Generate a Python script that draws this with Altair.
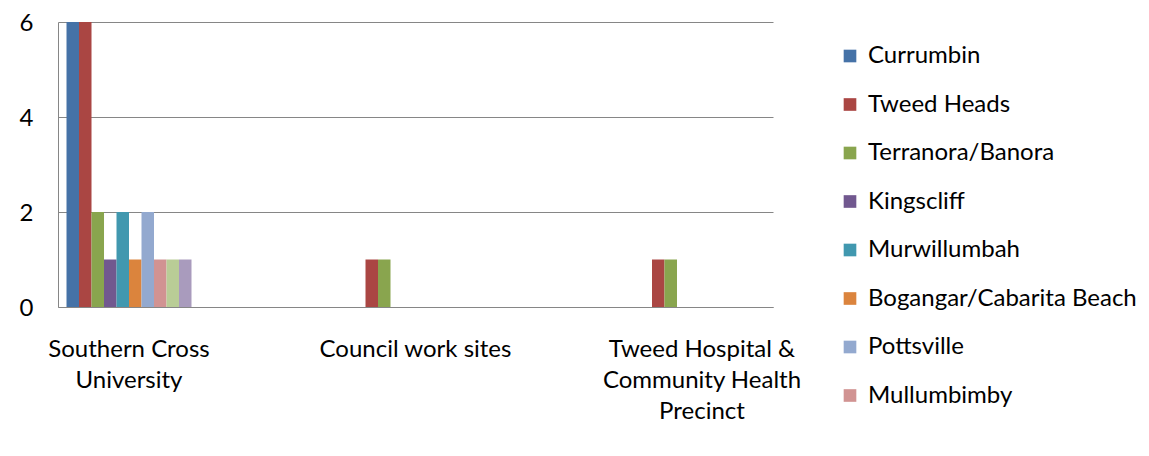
import altair as alt
import pandas as pd

categories = ["Southern Cross University", "Council work sites",
              "Tweed Hospital & Community Health Precinct"]
category_lines = [["Southern Cross", "University"], ["Council work sites"],
                  ["Tweed Hospital &", "Community Health", "Precinct"]]
series = ["Currumbin", "Tweed Heads", "Terranora/Banora", "Kingscliff",
          "Murwillumbah", "Bogangar/Cabarita Beach", "Pottsville", "Mullumbimby",
          "Byron Bay", "Other"]
legend_shown = series[:8]
colors = ["#4572A7", "#AA4643", "#89A54E", "#71588F", "#4198AF",
          "#DB843D", "#93A9CF", "#D19392", "#B9CD96", "#A99BBD"]
values = {
    "Southern Cross University": [6, 6, 2, 1, 2, 1, 2, 1, 1, 1],
    "Council work sites": [0, 1, 1, 0, 0, 0, 0, 0, 0, 0],
    "Tweed Hospital & Community Health Precinct": [0, 1, 1, 0, 0, 0, 0, 0, 0, 0],
}
y_ticks = [0, 2, 4, 6]

rows = []
for c in categories:
    for s, v in zip(series, values[c]):
        rows.append({"category": c, "series": s, "value": v})
df = pd.DataFrame(rows)

label_expr = ""
for c, lines in zip(categories, category_lines):
    arr = "[" + ",".join("'" + l + "'" for l in lines) + "]"
    label_expr += f"datum.value == '{c}' ? {arr} : "
label_expr += "datum.label"

FONT = "Lato"
FS = 24

chart = alt.Chart(df).mark_bar().encode(
    x=alt.X("category:N", sort=categories, title=None,
            scale=alt.Scale(paddingInner=0.5637, paddingOuter=0.0297),
            axis=alt.Axis(labelAngle=0, labelExpr=label_expr, labelPadding=30,
                          labelLineHeight=31, labelFontSize=FS, labelFont=FONT,
                          labelColor="#000000", ticks=False, domainColor="#868686",
                          labelBaseline="top", labelAlign="center", labelLimit=400)),
    xOffset=alt.XOffset("series:N", sort=series, scale=alt.Scale(paddingInner=0, paddingOuter=0)),
    y=alt.Y("value:Q", title=None, scale=alt.Scale(domain=[0, 6], nice=False),
            axis=alt.Axis(values=y_ticks, grid=True, gridColor="#868686", gridWidth=1,
                          domainColor="#868686", ticks=False, labelPadding=25,
                          labelOffset=1, labelFontSize=FS, labelFont=FONT,
                          labelColor="#000000")),
    color=alt.Color("series:N", sort=series,
                    scale=alt.Scale(domain=series, range=colors),
                    legend=alt.Legend(title=None, values=legend_shown, orient="none",
                                      legendX=780, legendY=22, symbolType="square",
                                      symbolSize=160, symbolStrokeWidth=0,
                                      labelFontSize=FS, labelFont=FONT, labelColor="#000000",
                                      labelOffset=6, rowPadding=24.5, labelLimit=400)),
).properties(
    width=715, height=285,
    autosize=alt.AutoSizeParams(type="none"),
    padding={"left": 50, "top": 14, "right": 366, "bottom": 130},
).configure_view(stroke=None)

chart.save("out.html", embed_options={"renderer": "svg", "actions": False})
